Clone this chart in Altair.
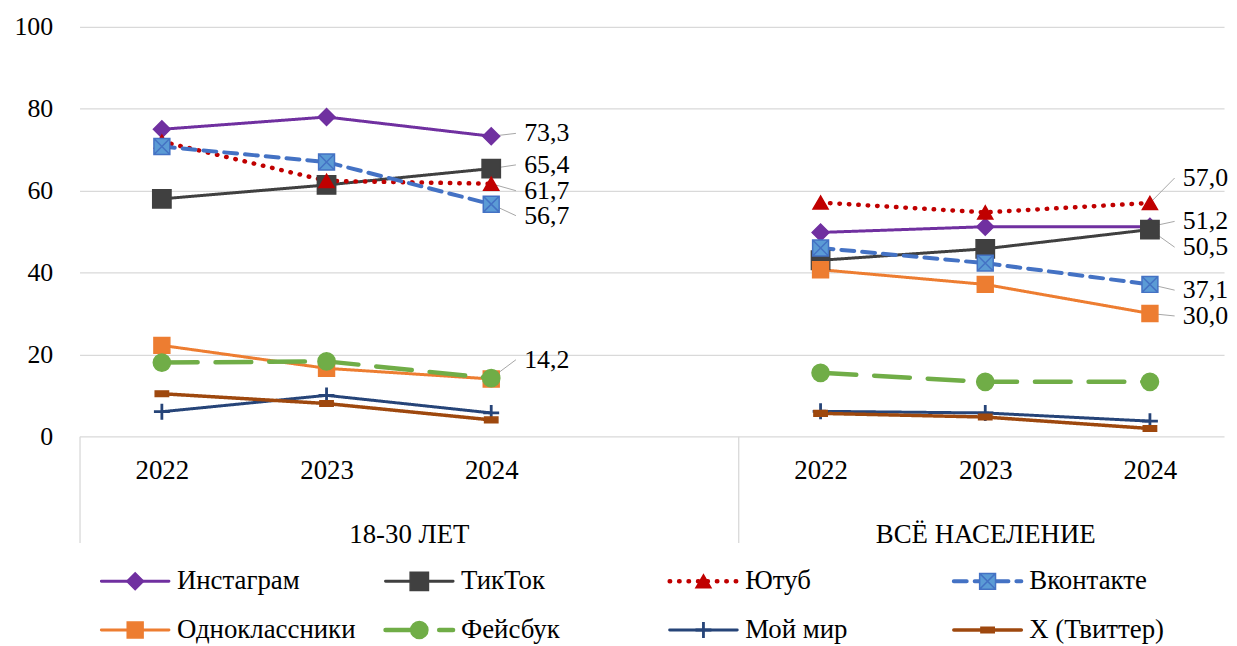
import json
import altair as alt
import pandas as pd

FONT = "Liberation Serif"

# ---------------- data ----------------
series = ["Инстаграм", "ТикТок", "Ютуб", "Вконтакте",
          "Одноклассники", "Фейсбук", "Мой мир", "Х (Твиттер)"]
groups = ["18-30 ЛЕТ", "ВСЁ НАСЕЛЕНИЕ"]
years = ["2022", "2023", "2024"]

# 18-30 лет, by year (order of `series`)
young_2022 = [75.0, 58.0, 72.0, 70.8, 22.2, 18.0, 6.0, 10.4]
young_2023 = [78.0, 61.4, 62.4, 67.0, 16.6, 18.3, 10.0, 8.0]
young_2024 = [73.3, 65.4, 61.7, 56.7, 14.0, 14.2, 5.7, 4.0]
# всё население, by year
all_2022 = [49.8, 43.0, 57.1, 46.0, 40.7, 15.5, 6.1, 5.6]
all_2023 = [51.2, 45.8, 54.7, 42.3, 37.1, 13.3, 5.7, 4.7]
all_2024 = [51.2, 50.5, 57.0, 37.1, 30.0, 13.3, 3.7, 1.9]

# labelled series at 2024 and where their labels sit (value units)
young_labelled = ["Инстаграм", "ТикТок", "Ютуб", "Вконтакте", "Фейсбук"]
young_label_y = [74.0, 66.3, 60.0, 53.9, 18.7]
all_labelled = ["Ютуб", "Инстаграм", "ТикТок", "Вконтакте", "Одноклассники"]
all_label_y = [63.1, 52.5, 46.2, 35.7, 29.4]

# ---------------- styles ----------------
line_colors = ["#7030A0", "#404040", "#C00000", "#4472C4",
               "#ED7D31", "#70AD47", "#264478", "#9E480E"]
fill_colors = ["#7030A0", "#404040", "#C00000", "#5B9BD5",
               "#ED7D31", "#70AD47", "#264478", "#9E480E"]
dashes = [[1, 0], [1, 0], [0.5, 9], [13, 8], [1, 0], [36, 18], [1, 0], [1, 0]]
line_widths = [3, 3, 4.5, 4, 3, 4.5, 3, 3.5]
marker_shapes = [
    "diamond",
    "square",
    "triangle-up",
    "M-1,-1H1V1H-1ZM-1,-1L1,1M1,-1L-1,1",
    "square",
    "circle",
    "M-1,-0.09H-0.09V-1H0.09V-0.09H1V0.09H0.09V1H-0.09V0.09H-1Z",
    "M-1,-0.42H1V0.42H-1Z",
]
marker_sizes = [290, 340, 230, 256, 256, 300, 210, 180]
legend_columns = 4

# ---------------- tables ----------------
by_group = [[young_2022, young_2023, young_2024], [all_2022, all_2023, all_2024]]
slots_per_group = len(years) + 1
rows = []
for gi, g in enumerate(groups):
    for yi, yr in enumerate(years):
        for si, s in enumerate(series):
            rows.append({"series": s, "marker": s, "group": g, "year": yr,
                         "slot": gi * slots_per_group + yi + 0.5,
                         "value": by_group[gi][yi][si]})
df = pd.DataFrame(rows)

lab_rows = []
for gi, (names, ly) in enumerate([(young_labelled, young_label_y), (all_labelled, all_label_y)]):
    last = by_group[gi][-1]
    slot = gi * slots_per_group + len(years) - 0.5
    for n, y in zip(names, ly):
        v = last[series.index(n)]
        lab_rows.append({"series": n, "value": v, "lab_y": y,
                         "x0": slot, "x1": slot + 0.15, "tx": slot + 0.2,
                         "label": f"{v:.1f}".replace(".", ",")})
labs = pd.DataFrame(lab_rows)

leg = pd.DataFrame({
    "series": series, "marker": series,
    "col": [i % legend_columns for i in range(len(series))],
    "row": [i // legend_columns for i in range(len(series))],
})

tick_slots = sorted(df["slot"].unique().tolist())
year_by_slot = []
for gi in range(len(groups)):
    year_by_slot += years + [""]
group_centers = [2.0, 5.5]
group_edges = [0, slots_per_group]

# ---------------- scales / shared encodings ----------------
xscale = alt.Scale(domain=[0, 6.95], nice=False, zero=False)
yscale = alt.Scale(domain=[0, 100], nice=False)
yaxis = alt.Axis(values=[0, 20, 40, 60, 80, 100], grid=True, gridColor="#d9d9d9",
                 gridWidth=1.3, domain=False, ticks=False, labelFont=FONT,
                 labelFontSize=26, labelColor="#000000", labelPadding=27, title=None)

color = alt.Color("series:N", scale=alt.Scale(domain=series, range=line_colors), legend=None)
dash = alt.StrokeDash("series:N", scale=alt.Scale(domain=series, range=dashes), legend=None)
width_enc = alt.StrokeWidth("marker:N", scale=alt.Scale(type="ordinal", domain=series,
                                                        range=line_widths), legend=None)
marker_enc = dict(
    shape=alt.Shape("marker:N", scale=alt.Scale(domain=series, range=marker_shapes), legend=None),
    size=alt.Size("marker:N", scale=alt.Scale(type="ordinal", domain=series, range=marker_sizes),
                  legend=None),
    fill=alt.Fill("marker:N", scale=alt.Scale(domain=series, range=fill_colors), legend=None),
    stroke=alt.Stroke("marker:N", scale=alt.Scale(domain=series, range=line_colors), legend=None),
)

# ---------------- plot layers ----------------
lines = alt.Chart(df).mark_line(strokeCap="round", strokeJoin="round").encode(
    x=alt.X("slot:Q", scale=xscale, axis=alt.Axis(
        orient="bottom", values=tick_slots,
        labelExpr=f"{json.dumps(year_by_slot)}[floor(datum.value)]",
        ticks=False, domain=False, grid=False, labelFont=FONT, labelFontSize=27,
        labelColor="#000000", labelPadding=22, labelFlush=False,
        labelOverlap=False, title=None)),
    y=alt.Y("value:Q", scale=yscale, axis=yaxis),
    color=color, strokeDash=dash, strokeWidth=width_enc,
    detail="group:N",
)

leaders = alt.Chart(labs).mark_rule(color="#a6a6a6", strokeWidth=1).encode(
    x=alt.X("x0:Q", scale=xscale, axis=alt.Axis(
        orient="bottom", values=group_edges, ticks=True, tickSize=107,
        tickColor="#d9d9d9", tickWidth=1.3, labels=False, domain=False,
        grid=False, title=None)),
    x2="x1:Q",
    y=alt.Y("value:Q", scale=yscale, axis=None),
    y2="lab_y:Q",
)

points = alt.Chart(df).mark_point(filled=True, opacity=1, strokeWidth=1.5).encode(
    x=alt.X("slot:Q", scale=xscale, axis=None),
    y=alt.Y("value:Q", scale=yscale, axis=None),
    **marker_enc,
)

texts = alt.Chart(labs).mark_text(align="left", baseline="middle", font=FONT,
                                  fontSize=26, color="#000000").encode(
    x=alt.X("tx:Q", scale=xscale, axis=alt.Axis(
        orient="bottom", values=group_centers,
        labelExpr=f"datum.value < {slots_per_group} ? {json.dumps(groups[0], ensure_ascii=False)} : {json.dumps(groups[1], ensure_ascii=False)}",
        ticks=False, domain=False, grid=False, labelFont=FONT, labelFontSize=27,
        labelColor="#000000", labelPadding=86, labelFlush=False, labelLimit=600,
        labelOverlap=False, title=None)),
    y=alt.Y("lab_y:Q", scale=yscale, axis=None),
    text="label:N",
)

# ---------------- legend (below the plot) ----------------
leg_x = alt.X("col:Q", scale=alt.Scale(domain=[0, legend_columns - 1], range=[22, 880]),
              axis=None)
leg_y = alt.Y("row:Q", scale=alt.Scale(domain=[0, 1], range=[558, 607]), axis=None)

leg_lines = alt.Chart(leg).mark_rule(x2Offset=68, strokeCap="round").encode(
    x=leg_x, x2="col:Q", y=leg_y,
    color=color, strokeDash=dash, strokeWidth=width_enc,
)
leg_points = alt.Chart(leg).mark_point(filled=True, opacity=1, strokeWidth=1.5,
                                       xOffset=34).encode(
    x=leg_x, y=leg_y, **marker_enc,
)
leg_text = alt.Chart(leg).mark_text(align="left", baseline="middle", dx=76, font=FONT,
                                    fontSize=27, color="#000000").encode(
    x=leg_x, y=leg_y, text="series:N",
)

chart = alt.layer(lines, leaders, points, texts, leg_lines, leg_points, leg_text).resolve_scale(
    x="independent", y="independent"
).resolve_axis(x="independent", y="independent").properties(
    width=1152, height=412,
    padding={"left": 72, "top": 17, "right": 5, "bottom": 208},
    autosize=alt.AutoSizeParams(type="none"),
).configure(font=FONT).configure_view(stroke=None).configure_axis(labelFont=FONT)

chart.save("out.html", embed_options={"renderer": "svg", "actions": False})
